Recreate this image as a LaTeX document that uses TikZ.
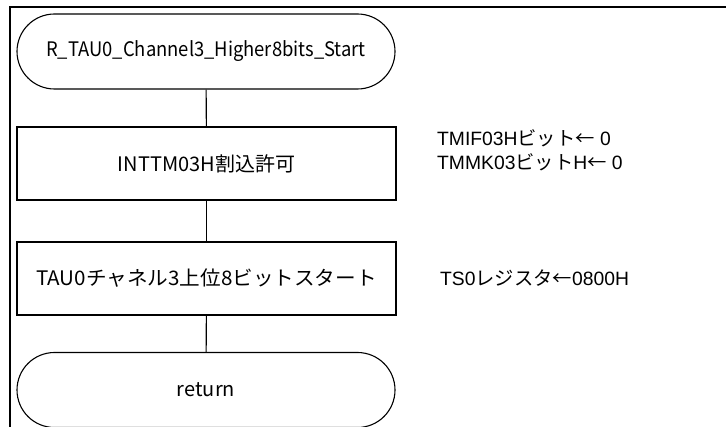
\documentclass[tikz,border=0pt]{standalone}
\usepackage{fontspec}
\setmainfont{Noto Sans CJK JP}
\newfontfamily\jpf{Noto Sans CJK JP}
\newfontfamily\latf{Liberation Sans}
\usetikzlibrary{shapes.misc}
\begin{document}
\begin{tikzpicture}[x=1pt,y=-1pt,
  term/.style={rounded rectangle, draw, line width=1.1pt, minimum width=378pt, minimum height=75pt, inner sep=0pt, font=\fontsize{20}{24}\selectfont},
  proc/.style={rectangle, draw, line width=1.1pt, minimum width=379pt, minimum height=73pt, inner sep=0pt, font=\fontsize{20}{24}\selectfont},
  note/.style={anchor=west, align=left, inner sep=0pt, font=\fontsize{19.3}{24}\selectfont\latf},
  link/.style={draw, line width=1.1pt}]
\useasboundingbox (0,0) rectangle (726,427);
\draw[line width=1.7pt] (10,427) -- (10,7) -- (726,7);
\node[term] (t1) at (206,51.5) {\scalebox{0.92}[1]{R\_TAU0\_Channel3\_Higher8bits\_Start}};
\node[proc] (b1) at (206.5,163.5) {INTTM03H割込許可};
\node[proc] (b2) at (206.5,278.5) {\scalebox{1.03}[1]{TAU0チャネル3上位8ビットスタート}};
\node[term] (t2) at (206,390) {return};
\path[link] (t1) -- (b1);
\path[link] (b1) -- (b2);
\path[link] (b2) -- (t2);
\node[note] (n1) at (437,150) {TMIF03H{\jpf ビット←} 0\\TMMK03{\jpf ビット}H{\jpf ←} 0};
\node[note] (n2) at (440,278) {TS0{\jpf レジスタ←}0800H};
\end{tikzpicture}
\end{document}
